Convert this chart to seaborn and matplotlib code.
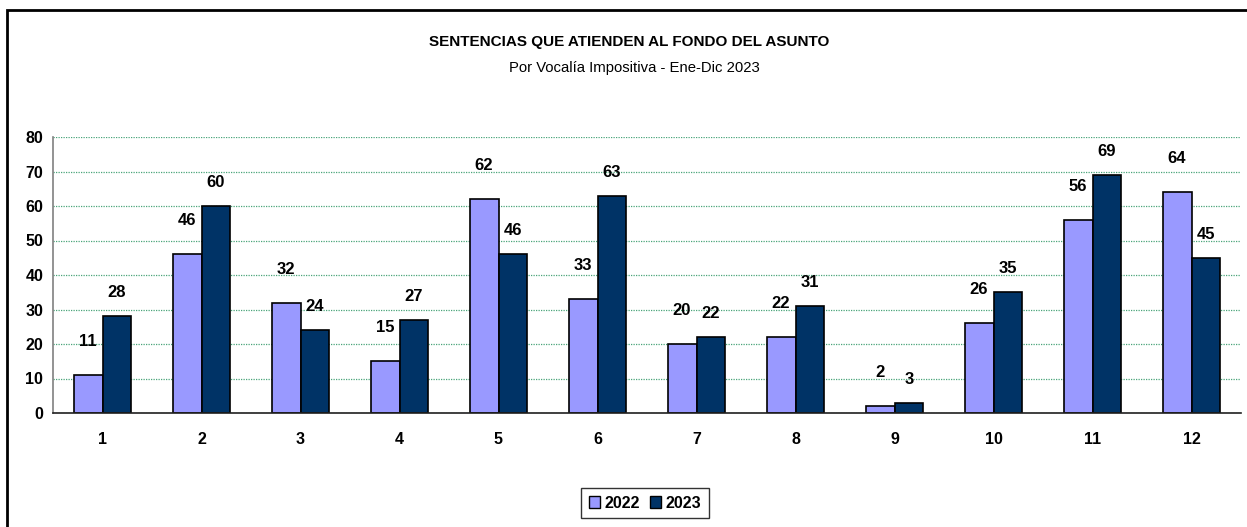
import pandas as pd
import numpy as np
import matplotlib
matplotlib.use("Agg")
import matplotlib.pyplot as plt
import seaborn as sns
from matplotlib.patches import Rectangle, Patch
from matplotlib.ticker import FixedLocator

# datos
vocalias = ["1", "2", "3", "4", "5", "6", "7", "8", "9", "10", "11", "12"]
anios = ["2022", "2023"]
valores_2022 = [11, 46, 32, 15, 62, 33, 20, 22, 2, 26, 56, 64]
valores_2023 = [28, 60, 24, 27, 46, 63, 22, 31, 3, 35, 69, 45]
y_ticks = [0, 10, 20, 30, 40, 50, 60, 70, 80]

titulo = "SENTENCIAS QUE ATIENDEN AL FONDO DEL ASUNTO"
subtitulo = "Por Vocalía Impositiva - Ene-Dic 2023"

colores = {"2022": "#9999FF", "2023": "#003366"}

df = pd.DataFrame({
    "vocalia": vocalias * 2,
    "anio": [anios[0]] * len(vocalias) + [anios[1]] * len(vocalias),
    "valor": valores_2022 + valores_2023,
})

sns.set_style("white")
plt.rcParams["font.family"] = ["Liberation Sans Narrow", "Liberation Sans", "DejaVu Sans"]
plt.rcParams["text.color"] = "black"
plt.rcParams["xtick.labelcolor"] = "black"
plt.rcParams["ytick.labelcolor"] = "black"

fig = plt.figure(figsize=(12.47, 5.27), dpi=100)
ax = fig.add_axes([53 / 1247, (527 - 413) / 527, (1241 - 53) / 1247, (413 - 137) / 527])

sns.barplot(data=df, x="vocalia", y="valor", hue="anio", order=vocalias,
            hue_order=anios, palette=colores, width=0.585, saturation=1,
            edgecolor="black", linewidth=1.2, ax=ax, legend=False)

# etiquetas de datos
offsets = {"2022": 24, "2023": 17}
for cont, anio in zip(ax.containers, anios):
    for bar in cont:
        h = bar.get_height()
        ax.annotate(f"{h:.0f}", (bar.get_x() + bar.get_width() / 2, h),
                    xytext=(0, offsets[anio]), textcoords="offset points",
                    ha="center", va="center", fontsize=12, fontweight="bold",
                    color="black")

ax.set_xlim(-0.5, len(vocalias) - 0.5)
ax.set_ylim(0, 80)
ax.set_yticks(y_ticks)
ax.set_xlabel("")
ax.set_ylabel("")
ax.yaxis.grid(True, color="#4aa57a", linestyle=(0, (1, 1)), linewidth=0.9)
ax.set_axisbelow(True)

ax.xaxis.set_minor_locator(FixedLocator(np.arange(-0.5, len(vocalias), 1.0)))
ax.tick_params(axis="x", which="major", length=0, pad=14, labelsize=11.5)
ax.tick_params(axis="x", which="minor", length=5, width=1, color="#404040", direction="out")
ax.tick_params(axis="y", length=4, width=1, color="#404040", direction="out", pad=3, labelsize=11.5)
for lbl in ax.get_xticklabels() + ax.get_yticklabels():
    lbl.set_fontweight("bold")
    lbl.set_color("black")

for s in ["top", "right"]:
    ax.spines[s].set_visible(False)
ax.spines["left"].set_color("#808080")
ax.spines["bottom"].set_color("#202020")
ax.spines["left"].set_linewidth(1.2)
ax.spines["bottom"].set_linewidth(1.2)

# titulos
fig.text(629 / 1247, 1 - 42 / 527, titulo, ha="center", va="center",
         fontsize=11, fontweight="bold", color="black")
fig.text(634 / 1247, 1 - 68 / 527, subtitulo, ha="center", va="center",
         fontsize=10.7, color="black")

# leyenda
handles = [Patch(facecolor=colores[a], edgecolor="black", linewidth=1) for a in anios]
leg = fig.legend(handles, anios, loc="center", bbox_to_anchor=(645 / 1247, 1 - 503 / 527),
                 ncol=2, frameon=True, fancybox=False, handlelength=0.7, handleheight=0.7,
                 handletextpad=0.3, columnspacing=0.6, borderpad=0.5,
                 prop={"weight": "bold", "size": 11.5})
leg.get_frame().set_edgecolor("black")
leg.get_frame().set_linewidth(1)
for t in leg.get_texts():
    t.set_color("black")

# borde del grafico
fig.patches.append(Rectangle((7 / 1247, -0.1), 1.2, 1 - 10 / 527 + 0.1, transform=fig.transFigure,
                             fill=False, edgecolor="black", linewidth=2))

fig.savefig("out.png", dpi=100)
